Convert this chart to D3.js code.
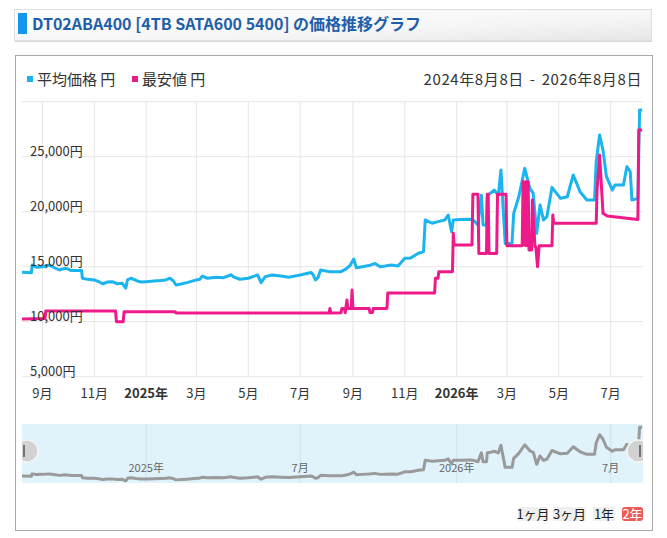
<!DOCTYPE html>
<html>
<head>
<meta charset="utf-8">
<script src="https://cdn.jsdelivr.net/npm/d3@7"></script>
<style>
  body { margin: 0; background: #fff; }
  svg { display: block; font-family: "Noto Sans CJK JP", "Noto Sans", sans-serif; }
</style>
</head>
<body>
<div id="chart"></div>
<script>
// 平均価格 (日付, 円)
const avgPoints = [
  ["2024-08-08",14500],["2024-08-19",14450],["2024-08-20",15150],["2024-08-25",14950],["2024-09-01",15000],
  ["2024-09-09",15150],["2024-09-14",14950],["2024-09-21",14700],["2024-09-25",14800],["2024-09-29",14850],
  ["2024-10-05",14650],["2024-10-17",14650],["2024-10-18",13950],["2024-10-24",13850],["2024-11-01",13800],
  ["2024-11-06",13650],["2024-11-11",13430],["2024-11-16",13600],["2024-11-22",13640],["2024-11-28",13450],
  ["2024-12-04",13500],["2024-12-06",13250],["2024-12-08",13050],["2024-12-10",13800],["2024-12-14",13950],
  ["2024-12-20",13750],["2024-12-26",13600],["2025-01-01",13640],["2025-01-10",13700],["2025-01-18",13750],
  ["2025-01-24",13800],["2025-01-29",13950],["2025-02-02",13700],["2025-02-05",13340],["2025-02-11",13430],
  ["2025-02-18",13550],["2025-03-01",13800],["2025-03-05",13850],["2025-03-08",14150],["2025-03-14",13950],
  ["2025-03-24",14050],["2025-04-02",14000],["2025-04-11",14270],["2025-04-13",14100],["2025-04-21",13860],
  ["2025-05-01",13950],["2025-05-12",14250],["2025-05-16",13550],["2025-05-21",14100],["2025-05-29",14250],
  ["2025-06-08",14150],["2025-06-18",14050],["2025-07-01",14250],["2025-07-14",14480],["2025-07-16",14300],
  ["2025-07-19",13800],["2025-07-22",14000],["2025-07-25",14700],["2025-08-04",14550],["2025-08-18",14550],
  ["2025-08-24",14800],["2025-08-29",15150],["2025-09-02",15700],["2025-09-05",14900],["2025-09-12",15000],
  ["2025-09-20",15100],["2025-09-27",15300],["2025-10-03",15000],["2025-10-09",15060],["2025-10-16",15150],
  ["2025-10-24",15060],["2025-11-01",15760],["2025-11-08",15800],["2025-11-17",16220],["2025-11-23",16370],
  ["2025-11-25",19250],["2025-12-03",18950],["2025-12-10",19100],["2025-12-18",19250],["2025-12-22",19700],
  ["2025-12-26",18190],["2025-12-28",19250],["2026-01-05",19300],["2026-01-16",19310],["2026-01-20",19300],
  ["2026-01-26",18800],["2026-01-30",21500],["2026-02-01",18800],["2026-02-05",18800],["2026-02-06",21500],
  ["2026-02-10",21700],["2026-02-14",21970],["2026-02-19",21500],["2026-02-22",23800],["2026-02-27",17120],
  ["2026-03-07",17120],["2026-03-09",19850],["2026-03-15",21360],["2026-03-22",23940],["2026-03-28",22120],
  ["2026-04-01",21670],["2026-04-05",18030],["2026-04-09",20600],["2026-04-13",19250],["2026-04-17",19550],
  ["2026-04-23",22210],["2026-05-03",21210],["2026-05-11",21360],["2026-05-18",23340],["2026-05-26",21820],
  ["2026-06-03",21060],["2026-06-12",21060],["2026-06-14",24550],["2026-06-18",26970],["2026-06-22",25600],
  ["2026-06-26",23190],["2026-07-03",21970],["2026-07-06",22420],["2026-07-16",22420],["2026-07-20",24090],
  ["2026-07-24",23640],["2026-07-26",21060],["2026-08-02",21210],["2026-08-04",29240],["2026-08-07",29240]
];

// 最安値 (日付, 円)
const minPoints = [
  ["2024-08-08",10240],["2024-09-04",10300],["2024-09-05",10970],["2024-11-26",10970],["2024-11-27",10000],
  ["2024-12-05",10000],["2024-12-06",10910],["2025-02-04",10910],["2025-02-05",10800],["2025-08-04",10800],
  ["2025-08-05",11200],["2025-08-06",10800],["2025-08-18",10820],["2025-08-19",11210],["2025-08-22",11210],
  ["2025-08-23",10820],["2025-08-25",11970],["2025-08-26",11210],["2025-08-30",11210],["2025-08-31",12880],
  ["2025-09-01",11210],["2025-09-20",11210],["2025-09-21",10830],["2025-09-24",10830],["2025-09-25",11210],
  ["2025-10-11",11210],["2025-10-12",12600],["2025-12-06",12600],["2025-12-07",13950],["2025-12-10",13950],
  ["2025-12-11",14550],["2025-12-27",14550],["2025-12-28",18030],["2025-12-29",16970],["2026-01-19",16970],
  ["2026-01-20",21580],["2026-01-26",21580],["2026-01-27",16210],["2026-02-05",16210],["2026-02-06",21580],
  ["2026-02-07",21580],["2026-02-08",16210],["2026-02-17",16210],["2026-02-18",21580],["2026-02-28",21580],
  ["2026-03-01",16910],["2026-03-19",16910],["2026-03-20",22730],["2026-03-21",17000],["2026-03-22",22730],
  ["2026-03-23",16910],["2026-03-24",22730],["2026-03-25",16910],["2026-03-26",22730],["2026-03-27",16520],
  ["2026-03-30",16520],["2026-03-31",21060],["2026-04-03",16820],["2026-04-04",16820],["2026-04-06",15000],
  ["2026-04-08",16910],["2026-04-23",16910],["2026-04-24",19700],["2026-04-25",18940],["2026-06-14",18940],
  ["2026-06-15",21970],["2026-06-18",25150],["2026-06-22",19850],["2026-06-27",19610],["2026-07-10",19500],
  ["2026-07-20",19400],["2026-08-02",19300],["2026-08-03",27430],["2026-08-07",27430]
];

// 軸の目盛り
const yTicks = [5000, 10000, 15000, 20000, 25000, 30000];
const yLabelTicks = [5000, 10000, 15000, 20000, 25000];
const xTicks = ["2024-09-01","2024-11-01","2025-01-01","2025-03-01","2025-05-01","2025-07-01",
                "2025-09-01","2025-11-01","2026-01-01","2026-03-01","2026-05-01","2026-07-01"];
const xTickLabels = ["9月","11月","2025年","3月","5月","7月","9月","11月","2026年","3月","5月","7月"];
const navTicks = ["2025-01-01","2025-07-01","2026-01-01","2026-07-01"];
const navTickLabels = ["2025年","7月","2026年","7月"];
const rangeButtons = ["1ヶ月","3ヶ月","1年","2年"];

const parse = d3.timeParse("%Y-%m-%d");
const avgData = avgPoints.map(d => ({ date: parse(d[0]), value: d[1] }));
const minData = minPoints.map(d => ({ date: parse(d[0]), value: d[1] }));

const W = 667, H = 538;
const svg = d3.select("#chart").append("svg").attr("width", W).attr("height", H);

// タイトルバー
const defs = svg.append("defs");
const grad = defs.append("linearGradient").attr("id", "titleGrad")
  .attr("x1", "0").attr("y1", "0").attr("x2", "1").attr("y2", "1");
grad.append("stop").attr("offset", "0").attr("stop-color", "#ffffff");
grad.append("stop").attr("offset", "0.6").attr("stop-color", "#f6f6f6");
grad.append("stop").attr("offset", "1").attr("stop-color", "#e6e6e6");

svg.append("rect").attr("x", 15).attr("y", 11).attr("width", 637).attr("height", 31).attr("fill", "#d8d8d8");
svg.append("rect").attr("x", 14.5).attr("y", 9.5).attr("width", 637).attr("height", 31)
  .attr("fill", "url(#titleGrad)").attr("stroke", "#dedede");
svg.append("rect").attr("x", 18).attr("y", 13).attr("width", 9).attr("height", 21).attr("fill", "#1495f0");
svg.append("text").attr("x", 32).attr("y", 30)
  .attr("font-size", 16).attr("font-weight", "bold").attr("fill", "#1f5fa9")
  .text("DT02ABA400 [4TB SATA600 5400] の価格推移グラフ");

// カード枠
svg.append("rect").attr("x", 15.5).attr("y", 55.5).attr("width", 637).attr("height", 475)
  .attr("fill", "#fff").attr("stroke", "#a8a8a8");

// 凡例
const legend = [{ name: "平均価格 円", color: "#1ab4ee", x: 27 }, { name: "最安値 円", color: "#ef1a8a", x: 132 }];
legend.forEach(l => {
  svg.append("rect").attr("x", l.x).attr("y", 76).attr("width", 6).attr("height", 6).attr("fill", l.color);
  svg.append("text").attr("x", l.x + 10).attr("y", 85).attr("font-size", 15).attr("fill", "#333").text(l.name);
});
svg.append("text").attr("x", 642).attr("y", 85).attr("text-anchor", "end")
  .attr("font-size", 15).attr("letter-spacing", 0.6).attr("word-spacing", 2).attr("fill", "#333")
  .text("2024年8月8日 - 2026年8月8日");

// メインのスケール
const plotTop = 101.7, plotBottom = 376.7, plotLeft = 22, plotRight = 643;
const x = d3.scaleTime().domain([parse("2024-08-08"), parse("2026-08-08")]).range([plotLeft, plotRight]);
const y = d3.scaleLinear().domain([5000, 30000]).range([plotBottom, plotTop]);

// グリッド
const grid = svg.append("g");
grid.selectAll(".hg").data(yTicks).join("line")
  .attr("x1", plotLeft).attr("x2", plotRight)
  .attr("y1", d => y(d)).attr("y2", d => y(d))
  .attr("stroke", "#e6e6e6").attr("stroke-width", 1);
grid.selectAll(".vg").data(xTicks).join("line")
  .attr("x1", d => x(parse(d))).attr("x2", d => x(parse(d)))
  .attr("y1", plotTop).attr("y2", plotBottom)
  .attr("stroke", "#e6e6e6").attr("stroke-width", 1);

// 線
svg.append("clipPath").attr("id", "plotClip").append("rect")
  .attr("x", plotLeft).attr("y", plotTop - 5).attr("width", plotRight - plotLeft).attr("height", plotBottom - plotTop + 5);
const line = d3.line().x(d => x(d.date)).y(d => y(d.value));
const lines = svg.append("g").attr("clip-path", "url(#plotClip)");
lines.append("path").datum(avgData).attr("d", line)
  .attr("fill", "none").attr("stroke", "#1ab4ee").attr("stroke-width", 3).attr("stroke-linejoin", "round");
lines.append("path").datum(minData).attr("d", line)
  .attr("fill", "none").attr("stroke", "#ef1a8a").attr("stroke-width", 3).attr("stroke-linejoin", "round");

// Y軸ラベル (グリッドの上)
svg.selectAll(".yl").data(yLabelTicks).join("text")
  .attr("x", 30).attr("y", d => y(d) - 1)
  .attr("font-size", 13).attr("fill", "#333")
  .text(d => d3.format(",")(d) + "円");

// X軸ラベル
svg.selectAll(".xl").data(xTicks).join("text")
  .attr("x", d => x(parse(d))).attr("y", 398)
  .attr("text-anchor", "middle").attr("font-size", 13).attr("fill", "#333")
  .attr("font-weight", (d, i) => xTickLabels[i].includes("年") ? "bold" : "normal")
  .text((d, i) => xTickLabels[i]);

// ナビゲーター
const navTop = 424, navBottom = 483;
const navY = d3.scaleLinear().domain([13000, 29300]).range([481, 427]);
svg.append("rect").attr("x", plotLeft).attr("y", navTop).attr("width", plotRight - plotLeft).attr("height", navBottom - navTop)
  .attr("fill", "#e0f3fb");
svg.selectAll(".ng").data(navTicks).join("line")
  .attr("x1", d => x(parse(d))).attr("x2", d => x(parse(d)))
  .attr("y1", navTop).attr("y2", navBottom)
  .attr("stroke", "#cfe2ea").attr("stroke-width", 1);
svg.selectAll(".nl").data(navTicks).join("text")
  .attr("x", d => x(parse(d))).attr("y", 472)
  .attr("text-anchor", "middle").attr("font-size", 11).attr("fill", "#666")
  .text((d, i) => navTickLabels[i]);
const navLine = d3.line().x(d => x(d.date)).y(d => navY(d.value));
svg.append("path").datum(avgData).attr("d", navLine)
  .attr("fill", "none").attr("stroke", "#9a9a9a").attr("stroke-width", 3).attr("stroke-linejoin", "round");

// ハンドル
svg.append("clipPath").attr("id", "navClip").append("rect")
  .attr("x", plotLeft).attr("y", navTop).attr("width", plotRight - plotLeft).attr("height", navBottom - navTop);
const handles = svg.append("g").attr("clip-path", "url(#navClip)");
[{ cx: plotLeft + 5, bar: plotLeft + 2 }, { cx: plotRight - 5, bar: plotRight - 3 }].forEach(h => {
  handles.append("circle").attr("cx", h.cx).attr("cy", 451).attr("r", 11)
    .attr("fill", "#d2d2d2").attr("stroke", "#f4f4f4").attr("stroke-width", 1.5);
  handles.append("rect").attr("x", h.bar - 0.75).attr("y", 445).attr("width", 1.5).attr("height", 12).attr("fill", "#555");
});

// 期間ボタン
const btnX = [518, 553, 593, 622], btnW = [30, 33, 22, 21];
rangeButtons.forEach((b, i) => {
  const sel = i === rangeButtons.length - 1;
  svg.append("rect").attr("x", btnX[i]).attr("y", 507).attr("width", btnW[i]).attr("height", 14).attr("rx", sel ? 3 : 1)
    .attr("fill", sel ? "#ee5a57" : "#efefef");
  svg.append("text").attr("x", btnX[i] + btnW[i] / 2).attr("y", 519).attr("text-anchor", "middle")
    .attr("font-size", 13).attr("fill", sel ? "#fff" : "#222").text(b);
});
</script>
</body>
</html>
